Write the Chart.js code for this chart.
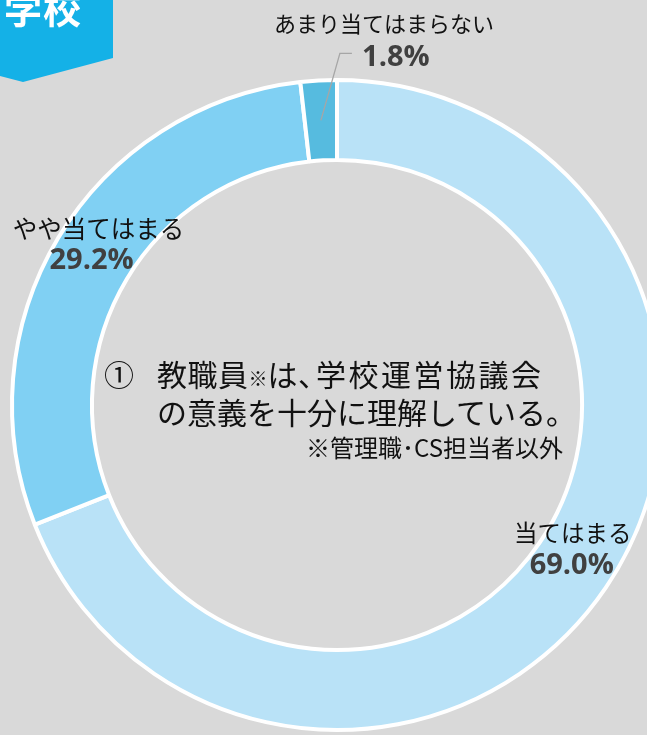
<!DOCTYPE html>
<html><head><meta charset="utf-8">
<script src="https://cdn.jsdelivr.net/npm/chart.js@4.4.0/dist/chart.umd.min.js"></script>
<style>
html,body{margin:0;padding:0;background:#d9d9d9;overflow:hidden;}
#wrap{position:relative;width:647px;height:735px;background:#d9d9d9;overflow:hidden;font-family:"Noto Sans CJK JP",sans-serif;}
#c{position:absolute;left:0;top:0;}
#banner{position:absolute;left:0;top:0;}
#btext{position:absolute;left:4px;top:-12px;font-size:38px;line-height:38px;font-weight:bold;color:#fff;letter-spacing:1px;}
.ct{position:absolute;color:#111;white-space:nowrap;}
#l1a{left:104px;top:358px;font-size:30px;line-height:30px;}
#l1{left:157px;top:358px;font-size:30px;line-height:30px;letter-spacing:0.5px;}
#l1 small{font-size:19px;letter-spacing:0;}
#l1 .p{letter-spacing:-12px;}
#l1 .w{letter-spacing:2.5px;}
#l2{left:157px;top:396px;font-size:30px;line-height:30px;}
#fn{left:306px;top:435px;font-size:24px;line-height:24px;}
</style></head>
<body>
<div id="wrap">
<canvas id="c" width="647" height="735"></canvas>
<svg id="banner" width="120" height="90"><polygon points="0,0 113,0 113,58 23,82 0,76" fill="#14b1e7"/></svg>
<div id="btext">学校</div>
<div class="ct" id="l1a">①</div>
<div class="ct" id="l1">教職員<small>※</small>は<span class="p">、</span><span class="w">学校運営協議会</span></div>
<div class="ct" id="l2">の意義を十分に理解している。</div>
<div class="ct" id="fn">※管理職･CS担当者以外</div>
</div>
<script>
const categories = ['当てはまる', 'やや当てはまる', 'あまり当てはまらない'];
const values = [69.0, 29.2, 1.8];
const valueLabels = values.map(v => v.toFixed(1) + '%');
const colors = ['#b9e2f7', '#80d0f3', '#56bbdf'];

// label placement relative to each arc's centroid
const labelPos = [
  {name: [0, -32], value: [-1, 1], size: 23.5},
  {name: [6, -30], value: [-1, 2], size: 24.5},
  {name: [63, -97], value: [75, -63], size: 22, leader: [[19, -67], [31, -67]]}
];

const labelPlugin = {
  id: 'labels',
  afterDatasetsDraw(chart) {
    const ctx = chart.ctx;
    const meta = chart.getDatasetMeta(0);
    meta.data.forEach((arc, i) => {
      const p = arc.tooltipPosition();
      const lp = labelPos[i];
      ctx.save();
      if (lp.leader) {
        ctx.strokeStyle = '#a6a6a6';
        ctx.lineWidth = 1.3;
        ctx.beginPath();
        ctx.moveTo(p.x, p.y);
        lp.leader.forEach(q => ctx.lineTo(p.x + q[0], p.y + q[1]));
        ctx.stroke();
      }
      ctx.textAlign = 'center';
      ctx.textBaseline = 'middle';
      ctx.fillStyle = '#111';
      ctx.font = lp.size + 'px "Noto Sans CJK JP"';
      ctx.fillText(categories[i], p.x + lp.name[0], p.y + lp.name[1]);
      ctx.fillStyle = '#404040';
      ctx.font = 'bold 29px "Open Sans"';
      ctx.fillText(valueLabels[i], p.x + lp.value[0], p.y + lp.value[1]);
      ctx.restore();
    });
  }
};

new Chart(document.getElementById('c'), {
  type: 'doughnut',
  data: {
    labels: categories,
    datasets: [{
      data: values,
      backgroundColor: colors,
      borderColor: '#ffffff',
      borderWidth: 4,
      radius: 325,
      clip: false
    }]
  },
  options: {
    responsive: false,
    devicePixelRatio: 1,
    animation: false,
    cutout: '75.4%',
    layout: {padding: {left: 27, top: 75, right: 0, bottom: 0}},
    plugins: {legend: {display: false}, tooltip: {enabled: false}}
  },
  plugins: [labelPlugin]
});
</script>
</body></html>
